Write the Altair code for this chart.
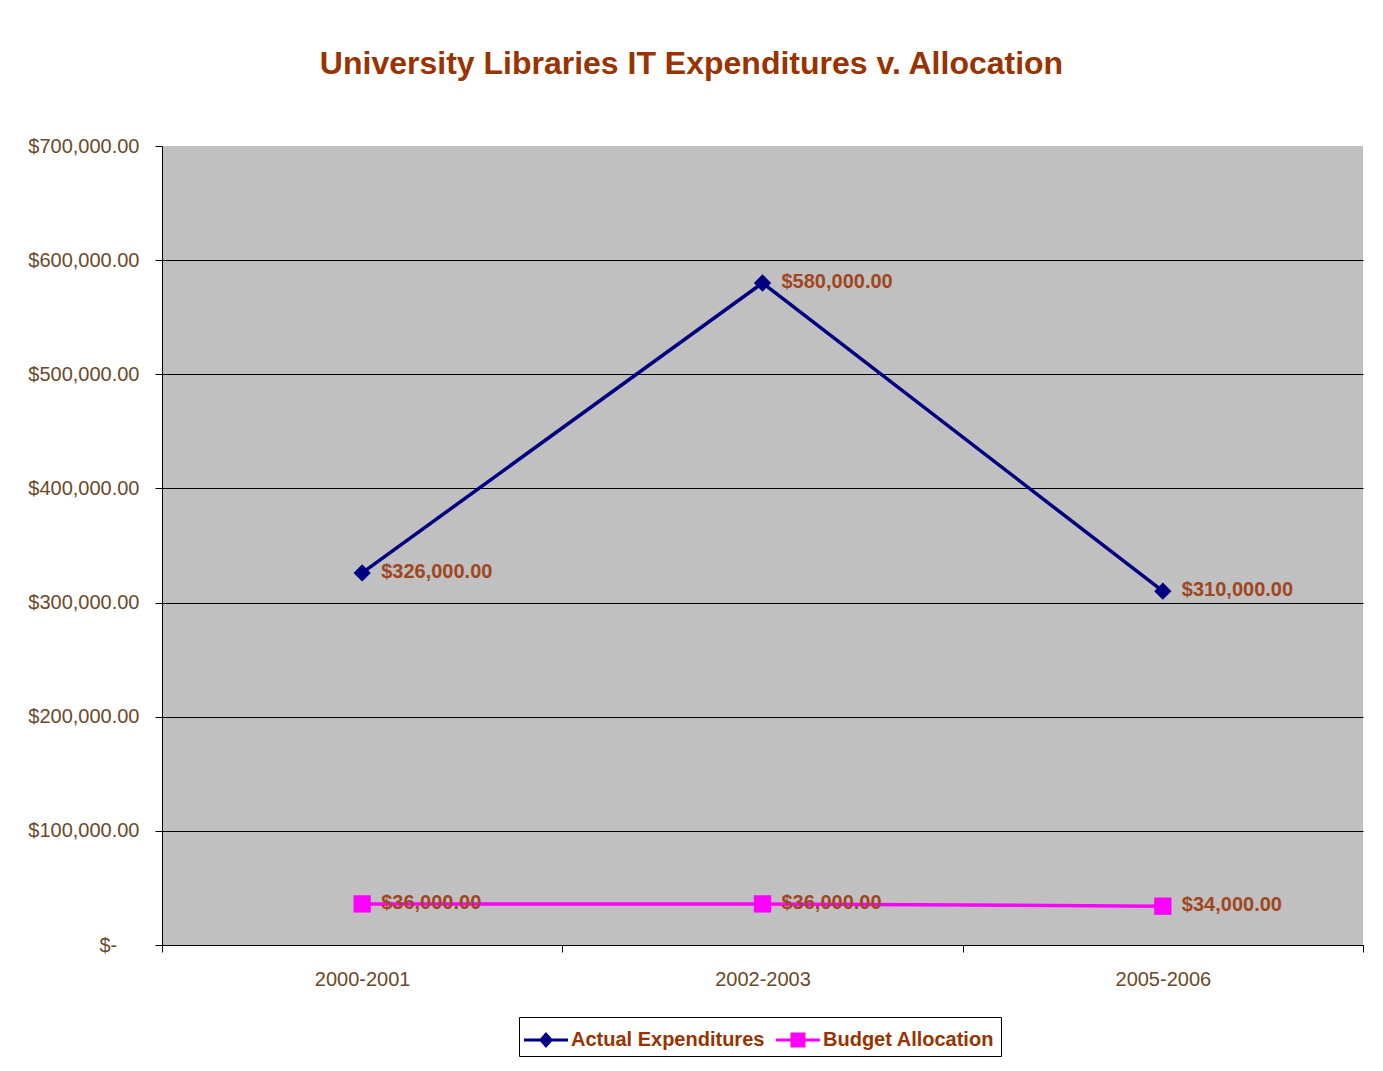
import altair as alt
import pandas as pd

periods = ["2000-2001", "2002-2003", "2005-2006"]
actual = [326000, 580000, 310000]
budget = [36000, 36000, 34000]
series_names = ["Actual Expenditures", "Budget Allocation"]
series_colors = ["#000080", "#FF00FF"]
point_shapes = ["diamond", "square"]
# legend glyphs: a short line with the marker on it
legend_shapes = [
    "M-1.06,-0.09L-0.105,-0.09L0.235,-0.47L0.575,-0.09L1.53,-0.09L1.53,0.09L0.575,0.09L0.235,0.47L-0.105,0.09L-1.06,0.09Z",
    "M-1.06,-0.09L-0.205,-0.09L-0.205,-0.44L0.675,-0.44L0.675,-0.09L1.53,-0.09L1.53,0.09L0.675,0.09L0.675,0.44L-0.205,0.44L-0.205,0.09L-1.06,0.09Z",
]

rows = []
for p, v in zip(periods, actual):
    rows.append({"period": p, "value": v, "series": series_names[0]})
for p, v in zip(periods, budget):
    rows.append({"period": p, "value": v, "series": series_names[1]})
df = pd.DataFrame(rows)

FONT = "Liberation Sans, Arial, sans-serif"
LABEL_COLOR = "#6B4A2A"
TEXT_BROWN = "#993300"
PAD = "\u00a0" * 4 + "\u2060"

x_enc = alt.X(
    "period:N",
    sort=periods,
    scale=alt.Scale(type="band", paddingInner=0, paddingOuter=0),
    bandPosition=0.5,
    axis=alt.Axis(
        title=None,
        labelAngle=0,
        labelFont=FONT,
        labelFontSize=20,
        labelColor=LABEL_COLOR,
        labelPadding=17,
        tickBand="extent",
        tickSize=7,
        tickColor="black",
        domainColor="black",
        grid=False,
    ),
)
y_enc = alt.Y(
    "value:Q",
    scale=alt.Scale(domain=[0, 700000], nice=False),
    axis=alt.Axis(
        title=None,
        values=[0, 100000, 200000, 300000, 400000, 500000, 600000, 700000],
        labelExpr="datum.value == 0 ? '$-" + PAD + "' : format(datum.value, '$,.2f')",
        labelFont=FONT,
        labelFontSize=20,
        labelColor=LABEL_COLOR,
        labelPadding=16,
        tickSize=7,
        tickColor="black",
        domainColor="black",
        gridColor={"condition": {"test": "datum.value == 700000", "value": "transparent"}, "value": "black"},
        gridWidth=1,
        gridOpacity=1,
    ),
)
color_enc = alt.Color(
    "series:N",
    scale=alt.Scale(domain=series_names, range=series_colors),
    legend=None,
)

base = alt.Chart(df).encode(x=x_enc, y=y_enc)

lines = base.mark_line(strokeWidth=3.5).encode(color=color_enc, detail="series:N")

points = base.mark_point(filled=True, size=300, opacity=1).encode(
    color=color_enc,
    shape=alt.Shape(
        "series:N",
        scale=alt.Scale(domain=series_names, range=point_shapes),
        legend=None,
    ),
)

labels = base.transform_calculate(
    label="format(datum.value, '$,.2f')"
).mark_text(
    align="left",
    baseline="middle",
    dx=19,
    dy=-1,
    font=FONT,
    fontSize=20,
    fontWeight="bold",
    color="#A0461E",
).encode(text="label:N")

legend_props = dict(
    title=None,
    orient="none",
    legendX=357,
    legendY=871,
    direction="horizontal",
    columns=2,
    symbolSize=1156,
    symbolOpacity=1,
    symbolStrokeWidth=0,
    labelFont=FONT,
    labelFontSize=20,
    labelFontWeight="bold",
    labelColor=TEXT_BROWN,
    labelOffset=12,
    columnPadding=10,
    padding=6,
    strokeColor="black",
    fillColor="white",
    labelLimit=400,
)

legend_layer = base.mark_point(filled=True, opacity=0).encode(
    fill=alt.Fill(
        "series:N",
        scale=alt.Scale(domain=series_names, range=series_colors),
        legend=alt.Legend(**legend_props),
    ),
    shape=alt.Shape(
        "series:N",
        scale=alt.Scale(domain=series_names, range=legend_shapes),
        legend=alt.Legend(**legend_props),
    ),
)

chart = (
    alt.layer(lines, points, labels, legend_layer)
    .resolve_scale(shape="independent", fill="independent")
    .properties(
        width=1201,
        height=799,
        autosize=alt.AutoSizeParams(type="none"),
        padding={"left": 154, "top": 138, "right": 12, "bottom": 116},
        title=alt.TitleParams(
            "University Libraries IT Expenditures v. Allocation",
            font=FONT,
            fontSize=32,
            fontWeight="bold",
            color=TEXT_BROWN,
            anchor="middle",
            dx=-71,
            offset=55,
        ),
    )
    .configure_view(fill="#C0C0C0", strokeWidth=0)
)

chart.save("out.html", embed_options={"renderer": "svg", "actions": False})
